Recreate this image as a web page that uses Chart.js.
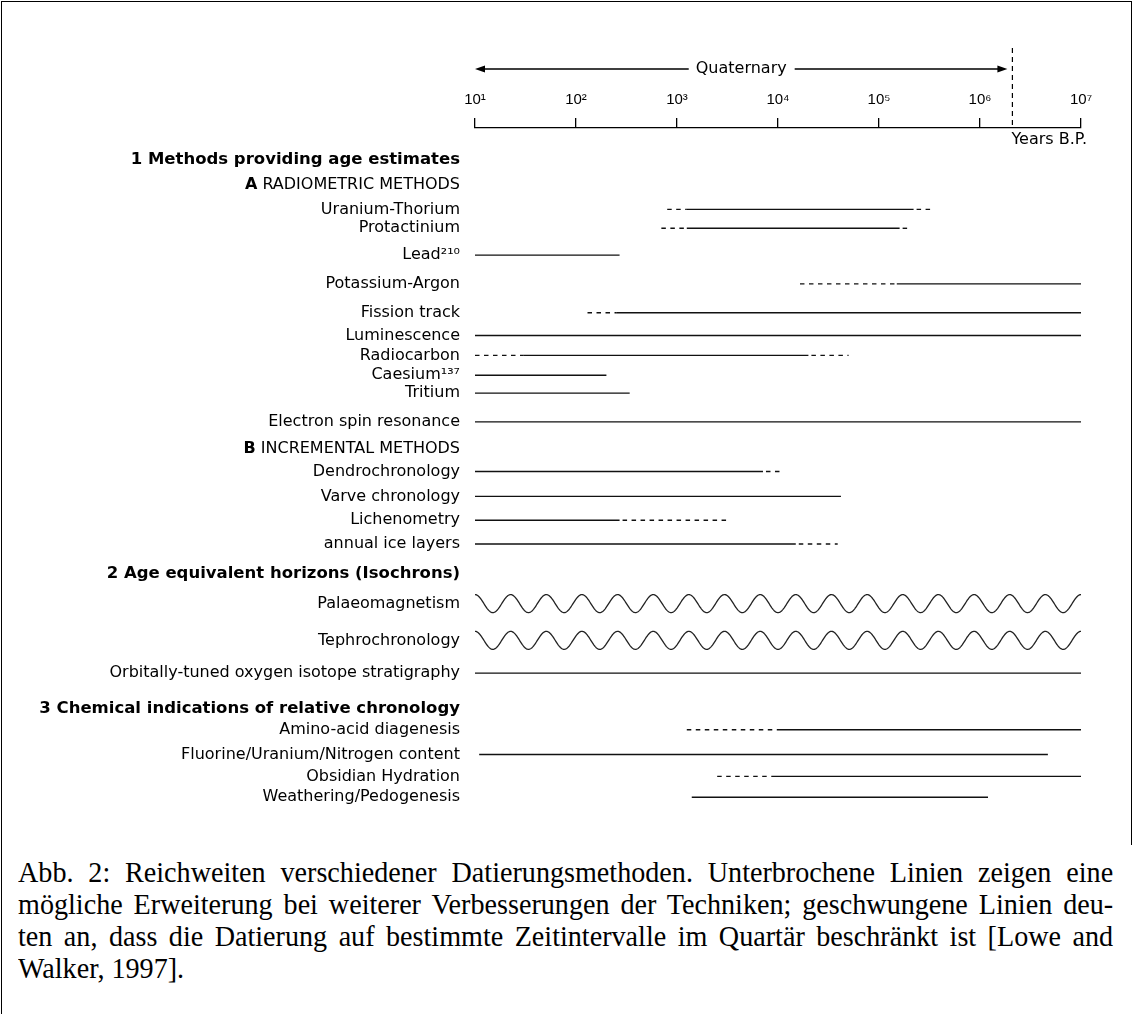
<!DOCTYPE html>
<html>
<head>
<meta charset="utf-8">
<title>Reichweiten verschiedener Datierungsmethoden</title>
<script src="https://cdn.jsdelivr.net/npm/chart.js@4.4.1/dist/chart.umd.min.js"></script>
<style>
  html, body { margin: 0; padding: 0; background: #fff; }
  body { width: 1133px; height: 1014px; position: relative; overflow: hidden; }
  #frame { position: absolute; left: 1px; top: 1px; width: 1131px; height: 844px; border: 1.5px solid #000; border-bottom: none; box-sizing: border-box; }
  #leftRule { position: absolute; left: 1px; top: 840px; height: 174px; border-left: 1.5px solid #000; }
  #chartBox { position: absolute; left: 0; top: 0; width: 1133px; height: 840px; }
  #caption { position: absolute; left: 18px; top: 856px; width: 1129px; transform: scaleX(0.97); transform-origin: 0 0;
    font-family: 'Liberation Serif', 'Times New Roman', serif; font-size: 29px; line-height: 32px; color: #000; }
  #caption .j { text-align: justify; text-align-last: justify; }
</style>
</head>
<body>
<div id="frame"></div>
<div id="leftRule"></div>
<div id="chartBox"><canvas id="rangeChart"></canvas></div>
<div id="caption">
  <div class="j">Abb. 2: Reichweiten verschiedener Datierungsmethoden. Unterbrochene Linien zeigen eine</div>
  <div class="j">mögliche Erweiterung bei weiterer Verbesserungen der Techniken; geschwungene Linien deu-</div>
  <div class="j">ten an, dass die Datierung auf bestimmte Zeitintervalle im Quartär beschränkt ist [Lowe and</div>
  <div>Walker, 1997].</div>
</div>

<script>
// Daten (Jahre vor heute)
const rowLabels = [
  '1 Methods providing age estimates', 'A RADIOMETRIC METHODS',
  'Uranium-Thorium', 'Protactinium', 'Lead²¹⁰', 'Potassium-Argon', 'Fission track',
  'Luminescence', 'Radiocarbon', 'Caesium¹³⁷', 'Tritium', 'Electron spin resonance',
  'B INCREMENTAL METHODS',
  'Dendrochronology', 'Varve chronology', 'Lichenometry', 'annual ice layers',
  '2 Age equivalent horizons (Isochrons)',
  'Palaeomagnetism', 'Tephrochronology', 'Orbitally-tuned oxygen isotope stratigraphy',
  '3 Chemical indications of relative chronology',
  'Amino-acid diagenesis', 'Fluorine/Uranium/Nitrogen content', 'Obsidian Hydration', 'Weathering/Pedogenesis'
];
const headerRows = [
  '1 Methods providing age estimates',
  '2 Age equivalent horizons (Isochrons)',
  '3 Chemical indications of relative chronology'
];
// gesicherte Reichweite (durchgezogen)
const solidStart = [null, null, 1250, 1250, 10, 1.5e5, 250, 10, 30, 10, 10, 10, null,
  10, 10, 10, 10, null, 10, 10, 10, null, 1e4, 11, 8700, 1400];
const solidEnd = [null, null, 2.2e5, 1.6e5, 270, 1e7, 1e7, 1e7, 2e4, 200, 340, 1e7, null,
  7100, 42000, 270, 15000, null, 1e7, 1e7, 1e7, null, 1e7, 4.7e6, 1e7, 1.2e6];
// mögliche Erweiterung (unterbrochen) nach links bzw. rechts
const dashFrom = [null, null, 800, 700, null, 16500, 130, null, 10, null, null, null, null,
  null, null, null, null, null, null, null, null, null, 1250, null, 2500, null];
const dashTo = [null, null, 3.5e5, 1.9e5, null, null, null, null, 5e4, null, null, null, null,
  11000, null, 3200, 39000, null, null, null, null, null, null, null, null, null];
// geschwungene Linien
const wavyRows = ['Palaeomagnetism', 'Tephrochronology'];
const quaternarySpan = [10, 2e6];
const xTickExp = [1, 2, 3, 4, 5, 6, 7];

// Layout: vertikale Lage der Zeilen wie im Bild
const rowSlot = [3.2, 5.7, 8.2, 10.1, 12.8, 15.7, 18.6, 20.9, 22.9, 24.9, 26.7, 29.6, 32.3,
  34.6, 37.1, 39.5, 41.9, 44.9, 47.9, 51.6, 54.9, 58.5, 60.6, 63.1, 65.3, 67.4];

const SUP = { 1: '¹', 2: '²', 3: '³', 4: '⁴', 5: '⁵', 6: '⁶', 7: '⁷' };
const FONT = '"DejaVu Sans", "Liberation Sans", sans-serif';
const LINE = '#111';
const LABEL_PAD = 15;

const datasets = [];
rowLabels.forEach((lab, i) => {
  if (solidStart[i] == null) return;
  const y = rowSlot[i];
  const wavy = wavyRows.includes(lab);
  datasets.push({
    label: lab,
    data: [{ x: solidStart[i], y }, { x: solidEnd[i], y }],
    borderDash: [],
    wavy: wavy,
    showLine: !wavy
  });
  if (dashFrom[i] != null) {
    datasets.push({ label: lab + ' (ext.)', data: [{ x: dashFrom[i], y }, { x: solidStart[i], y }], borderDash: [4.5, 4.5] });
  }
  if (dashTo[i] != null) {
    datasets.push({ label: lab + ' (ext.)', data: [{ x: solidEnd[i], y }, { x: dashTo[i], y }], borderDash: [4.5, 4.5], borderDashOffset: -3 });
  }
});

// geschwungene Linien zwischen den Endpunkten zeichnen
const wavyPlugin = {
  id: 'wavy',
  afterDatasetsDraw(chart) {
    const ctx = chart.ctx;
    chart.data.datasets.forEach((ds, i) => {
      if (!ds.wavy) return;
      const pts = chart.getDatasetMeta(i).data;
      const xa = pts[0].x, xb = pts[1].x, yc = pts[0].y;
      const n = Math.round((xb - xa) / 35.6);
      const period = (xb - xa) / n;
      ctx.save();
      ctx.strokeStyle = '#222';
      ctx.lineWidth = 1.3;
      ctx.beginPath();
      for (let px = xa; px <= xb + 0.01; px += 0.5) {
        const yy = yc - 9 * Math.cos(2 * Math.PI * (px - xa) / period);
        if (px === xa) ctx.moveTo(px, yy); else ctx.lineTo(px, yy);
      }
      ctx.stroke();
      ctx.restore();
    });
  }
};

// Quartär-Pfeil, Grenze und "Years B.P."
const headerPlugin = {
  id: 'header',
  afterDraw(chart) {
    const { ctx, scales: { x, y } } = chart;
    const x0 = x.getPixelForValue(quaternarySpan[0]);
    const x1 = x.getPixelForValue(quaternarySpan[1]) - 3;
    const ay = 69;
    ctx.save();
    ctx.fillStyle = '#000';
    ctx.strokeStyle = '#000';
    ctx.lineWidth = 1.4;
    ctx.font = '16px ' + FONT;
    ctx.textBaseline = 'middle';
    ctx.textAlign = 'center';
    const cx = (x0 + x1) / 2;
    const tw = ctx.measureText('Quaternary').width;
    ctx.fillText('Quaternary', cx, ay);
    ctx.beginPath();
    ctx.moveTo(x0 + 8, ay); ctx.lineTo(cx - tw / 2 - 7, ay);
    ctx.moveTo(cx + tw / 2 + 8, ay); ctx.lineTo(x1 - 8, ay);
    ctx.stroke();
    ctx.beginPath();
    ctx.moveTo(x0, ay); ctx.lineTo(x0 + 10, ay - 3.5); ctx.lineTo(x0 + 10, ay + 3.5); ctx.closePath();
    ctx.moveTo(x1, ay); ctx.lineTo(x1 - 10, ay - 3.5); ctx.lineTo(x1 - 10, ay + 3.5); ctx.closePath();
    ctx.fill();
    // Grenze Quartär
    const bx = x.getPixelForValue(quaternarySpan[1]) + 2;
    ctx.lineWidth = 1.2;
    ctx.setLineDash([5, 4]);
    ctx.beginPath();
    ctx.moveTo(bx, 48); ctx.lineTo(bx, x.bottom);
    ctx.stroke();
    ctx.setLineDash([]);
    ctx.textAlign = 'right';
    ctx.font = '16px ' + FONT;
    ctx.fillText('Years B.P.', x.right + 6, 140);
    // fette Kennbuchstaben A / B
    rowLabels.forEach((lab, i) => {
      const m = lab.match(/^([AB]) (.*)$/);
      if (!m) return;
      const py = y.getPixelForValue(rowSlot[i]);
      ctx.font = '16px ' + FONT;
      const restW = ctx.measureText(' ' + m[2]).width;
      ctx.font = 'bold 16px ' + FONT;
      ctx.fillText(m[1], y.right - LABEL_PAD - restW, py);
    });
    ctx.restore();
  }
};

new Chart(document.getElementById('rangeChart'), {
  type: 'line',
  data: { datasets },
  options: {
    responsive: true,
    maintainAspectRatio: false,
    animation: false,
    events: [],
    layout: { padding: { top: 0, left: 0, right: 52, bottom: 20 } },
    elements: {
      line: { borderColor: LINE, borderWidth: 1.4, tension: 0 },
      point: { radius: 0 }
    },
    plugins: { legend: { display: false }, tooltip: { enabled: false } },
    scales: {
      x: {
        type: 'logarithmic',
        position: 'top',
        min: 10,
        max: 1e7,
        afterBuildTicks: (s) => { s.ticks = xTickExp.map(e => ({ value: Math.pow(10, e), major: true })); },
        afterFit: (s) => { s.height = 128; },
        grid: { drawOnChartArea: false, drawTicks: true, tickLength: 10, color: '#000', lineWidth: 1.3 },
        border: { color: '#000', width: 1.3 },
        ticks: {
          autoSkip: false,
          maxRotation: 0,
          padding: 9,
          color: '#000',
          font: { family: '"Liberation Sans", "DejaVu Sans", sans-serif', size: 15 },
          callback: (v) => '10' + SUP[Math.round(Math.log10(v))]
        }
      },
      y: {
        type: 'linear',
        reverse: true,
        min: 0,
        max: 69.2,
        afterBuildTicks: (s) => { s.ticks = rowSlot.map(v => ({ value: v })); },
        afterFit: (s) => { s.width = 475; },
        grid: { display: false, drawTicks: false, tickLength: 0 },
        border: { display: false },
        ticks: {
          autoSkip: false,
          padding: LABEL_PAD,
          color: '#000',
          font: (c) => headerRows.includes(rowLabels[c.index])
            ? { family: FONT, size: 16.5, weight: 'bold' }
            : { family: FONT, size: 16 },
          callback: (v, i) => {
            const m = rowLabels[i].match(/^[AB] (.*)$/);
            return m ? m[1] : rowLabels[i];
          }
        }
      }
    }
  },
  plugins: [wavyPlugin, headerPlugin]
});
</script>
</body>
</html>
